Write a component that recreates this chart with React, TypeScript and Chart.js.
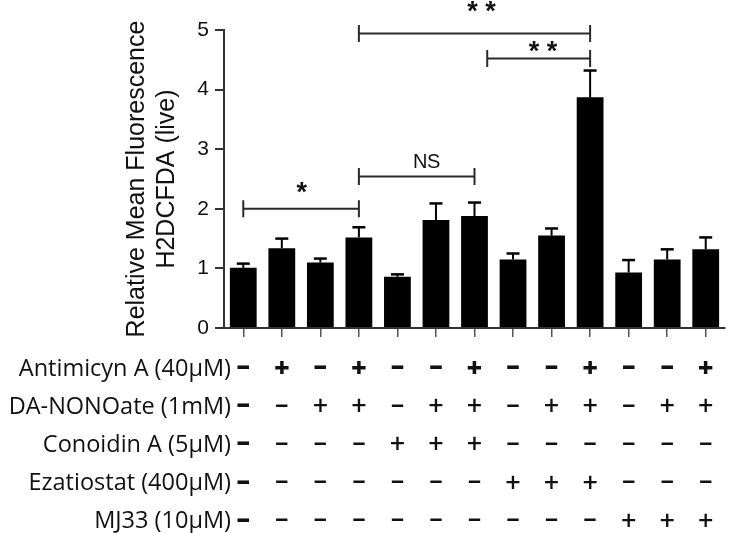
import React, { useEffect, useRef } from 'react';
import { Chart, registerables } from 'chart.js';

Chart.register(...registerables);

// ---- data ----
const groups = ['Control', 'AA', 'DA', 'AA+DA', 'CA', 'DA+CA', 'AA+DA+CA', 'EZ', 'DA+EZ', 'AA+DA+EZ', 'MJ33', 'DA+MJ33', 'AA+DA+MJ33'];
const meanValues = [1.01, 1.34, 1.10, 1.52, 0.86, 1.81, 1.88, 1.15, 1.55, 3.87, 0.93, 1.15, 1.32];
const semValues = [0.07, 0.16, 0.065, 0.17, 0.04, 0.28, 0.225, 0.10, 0.12, 0.45, 0.21, 0.17, 0.20];
const yTickValues = [0, 1, 2, 3, 4, 5];
const yTitle = ['Relative Mean Fluorescence', 'H2DCFDA (live)'];

const treatmentLabels = ['Antimicyn A (40\u03BCM)', 'DA-NONOate (1mM)', 'Conoidin A (5\u03BCM)', 'Ezatiostat (400\u03BCM)', 'MJ33 (10\u03BCM)'];
const antimycinA = [0, 1, 0, 1, 0, 0, 1, 0, 0, 1, 0, 0, 1];
const daNonoate = [0, 0, 1, 1, 0, 1, 1, 0, 1, 1, 0, 1, 1];
const conoidinA = [0, 0, 0, 0, 1, 1, 1, 0, 0, 0, 0, 0, 0];
const ezatiostat = [0, 0, 0, 0, 0, 0, 0, 1, 1, 1, 0, 0, 0];
const mj33 = [0, 0, 0, 0, 0, 0, 0, 0, 0, 0, 1, 1, 1];

// significance brackets (category index from/to, value level)
const bracketFrom = [0, 3, 6.33, 3];
const bracketTo = [3, 6, 9, 9];
const bracketLevel = [2.0, 2.54, 4.52, 4.94];
const bracketText = ['*', 'NS', '* *', '* *'];
const bracketTextAt = [1.52, 4.75, 7.78, 6.18];
const bracketTextLevel = [2.35, 2.81, 4.72, 5.39];

const SANS = "'Liberation Sans', Arial, Helvetica, sans-serif";
const TABLE_FONT = "'Open Sans', 'Noto Sans', sans-serif";

function fillCentered(ctx: CanvasRenderingContext2D, text: string, x: number, y: number) {
  ctx.textBaseline = 'alphabetic';
  const m = ctx.measureText(text);
  ctx.fillText(text, x, y + (m.actualBoundingBoxAscent - m.actualBoundingBoxDescent) / 2);
}

const errorBarPlugin = {
  id: 'errorBars',
  afterDatasetsDraw(chart: any) {
    const ctx: CanvasRenderingContext2D = chart.ctx;
    const y = chart.scales.y;
    const meta = chart.getDatasetMeta(0);
    ctx.save();
    ctx.strokeStyle = '#000';
    meta.data.forEach((bar: any, i: number) => {
      const x = bar.x;
      const top = y.getPixelForValue(meanValues[i]);
      const et = y.getPixelForValue(meanValues[i] + semValues[i]);
      ctx.lineWidth = 2;
      ctx.beginPath();
      ctx.moveTo(x, top);
      ctx.lineTo(x, et);
      ctx.stroke();
      ctx.lineWidth = 2.5;
      ctx.beginPath();
      ctx.moveTo(x - 6.5, et);
      ctx.lineTo(x + 6.5, et);
      ctx.stroke();
    });
    ctx.restore();
  },
};

const bracketPlugin = {
  id: 'brackets',
  afterDatasetsDraw(chart: any) {
    const ctx: CanvasRenderingContext2D = chart.ctx;
    const xs = chart.scales.x;
    const ys = chart.scales.y;
    ctx.save();
    ctx.strokeStyle = '#2a2a2a';
    ctx.fillStyle = '#111';
    ctx.lineWidth = 2;
    for (let i = 0; i < bracketFrom.length; i++) {
      const x1 = xs.getPixelForValue(bracketFrom[i]);
      const x2 = xs.getPixelForValue(bracketTo[i]);
      const yy = ys.getPixelForValue(bracketLevel[i]);
      ctx.beginPath();
      ctx.moveTo(x1, yy);
      ctx.lineTo(x2, yy);
      ctx.moveTo(x1, yy - 8.5);
      ctx.lineTo(x1, yy + 8.5);
      ctx.moveTo(x2, yy - 8.5);
      ctx.lineTo(x2, yy + 8.5);
      ctx.stroke();
      const tx = xs.getPixelForValue(bracketTextAt[i]);
      const ty = ys.getPixelForValue(bracketTextLevel[i]);
      ctx.textAlign = 'center';
      if (bracketText[i] === 'NS') {
        ctx.font = `20px ${SANS}`;
        (ctx as any).letterSpacing = '-0.5px';
      } else {
        ctx.font = `bold 27px ${SANS}`;
        (ctx as any).letterSpacing = '0px';
      }
      fillCentered(ctx, bracketText[i], tx, ty);
    }
    ctx.restore();
  },
};

const tablePlugin = {
  id: 'treatmentTable',
  afterDraw(chart: any) {
    const ctx: CanvasRenderingContext2D = chart.ctx;
    const xs = chart.scales.x;
    const rows = [antimycinA, daNonoate, conoidinA, ezatiostat, mj33];
    const rowTop = 367;
    const rowStep = 38.2;
    ctx.save();
    ctx.fillStyle = '#111';
    rows.forEach((row, r) => {
      const y = rowTop + r * rowStep;
      ctx.font = `23.5px ${TABLE_FONT}`;
      ctx.textAlign = 'right';
      ctx.textBaseline = 'alphabetic';
      const cap = ctx.measureText('H').actualBoundingBoxAscent;
      ctx.fillText(treatmentLabels[r], 231, y + cap / 2);
      ctx.textAlign = 'center';
      row.forEach((v, c) => {
        const bold = r === 0 || c === 0;
        ctx.font = `${bold ? '800' : '600'} 27px ${TABLE_FONT}`;
        fillCentered(ctx, v ? '+' : '\u2013', xs.getPixelForValue(c), y);
      });
    });
    ctx.restore();
  },
};

export default function App() {
  const canvasRef = useRef<HTMLCanvasElement | null>(null);

  useEffect(() => {
    document.body.style.margin = '0';
    const canvas = canvasRef.current;
    if (!canvas) return;
    const chart = new Chart(canvas, {
      type: 'bar',
      data: {
        labels: groups,
        datasets: [
          {
            data: meanValues,
            backgroundColor: '#000',
            borderWidth: 0,
            categoryPercentage: 1,
            barPercentage: 0.695,
          },
        ],
      },
      plugins: [errorBarPlugin, bracketPlugin, tablePlugin],
      options: {
        responsive: false,
        animation: false,
        devicePixelRatio: 1,
        layout: { padding: { left: 0, top: 30, right: 4, bottom: 196 } },
        plugins: { legend: { display: false }, tooltip: { enabled: false } },
        scales: {
          x: {
            grid: { display: true, drawOnChartArea: false, drawTicks: true, tickLength: 9, offset: false, color: '#555', lineWidth: 1.5 },
            border: { display: true, color: '#333', width: 2 },
            ticks: { display: false },
            afterFit: (s: any) => {
              s.height = 9;
            },
          },
          y: {
            min: 0,
            max: 5,
            afterBuildTicks: (s: any) => {
              s.ticks = yTickValues.map((v) => ({ value: v }));
            },
            ticks: { font: { family: SANS, size: 21 }, color: '#111', padding: 6 },
            grid: { drawOnChartArea: false, drawTicks: true, tickLength: 9, color: '#333', lineWidth: 2 },
            border: { display: true, color: '#333', width: 2 },
            title: {
              display: true,
              text: yTitle,
              color: '#111',
              font: { family: SANS, size: 25, lineHeight: 1.2 },
              padding: { top: 122, bottom: 0 },
            },
            afterFit: (s: any) => {
              s.width = 224;
            },
          },
        },
      } as any,
    });
    return () => chart.destroy();
  }, []);

  return (
    <div style={{ width: 729, height: 533, position: 'relative' }}>
      <canvas ref={canvasRef} width={729} height={533} />
    </div>
  );
}
